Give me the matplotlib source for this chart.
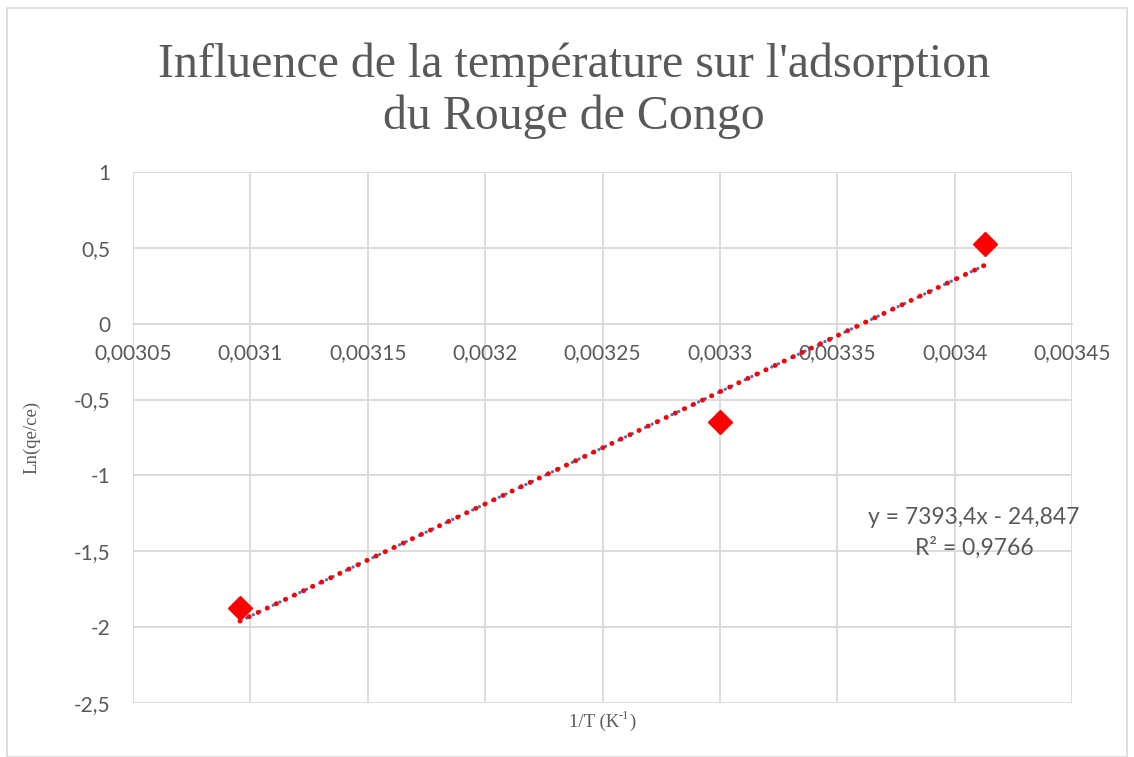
import numpy as np
import matplotlib.pyplot as plt
from matplotlib.ticker import MultipleLocator, FuncFormatter
from matplotlib.patches import Rectangle

# ==========================================================
# DATA
# ==========================================================

inv_T = [0.0030956, 0.0033001, 0.0034129]
ln_qe_ce = [-1.874, -0.648, 0.525]

slope = 7393.4
intercept = -24.847
r2 = 0.9766

GRAY = "#595959"
GRID = "#d9d9d9"


def comma(v, pos):
    return ("%g" % round(v, 8)).replace(".", ",")


# ==========================================================
# FIGURE
# ==========================================================

W, H = 1134, 757
fig = plt.figure(figsize=(W / 100, H / 100), dpi=100)
ax = fig.add_axes([133 / W, 1 - 703 / H, (1072 - 133) / W, (703 - 172) / H])

# outer chart border
fig.patches.append(Rectangle((7 / W, 0), 1120 / W, 1 - 8 / H,
                             transform=fig.transFigure, fill=False,
                             edgecolor="#d9d9d9", linewidth=1.2))

ax.set_xlim(0.00305, 0.00345)
ax.set_ylim(-2.5, 1)
ax.xaxis.set_major_locator(MultipleLocator(0.00005))
ax.yaxis.set_major_locator(MultipleLocator(0.5))
ax.xaxis.set_major_formatter(FuncFormatter(comma))
ax.yaxis.set_major_formatter(FuncFormatter(comma))

ax.grid(True, color=GRID, linewidth=1.3)
ax.set_axisbelow(True)
for s in ["top", "right", "left"]:
    ax.spines[s].set_visible(False)
ax.spines["bottom"].set_position(("data", 0))
ax.spines["bottom"].set_color(GRID)
ax.spines["bottom"].set_linewidth(1.3)

ax.tick_params(length=0, labelsize=15, labelcolor=GRAY)
ax.tick_params(axis="y", pad=16)
ax.tick_params(axis="x", pad=14)
for lbl in ax.get_xticklabels() + ax.get_yticklabels():
    lbl.set_fontfamily("Lato")

# trend line (linear fit), drawn twice: blue dotted under red dotted
x_fit = np.array([inv_T[0], inv_T[-1]])
y_fit = slope * x_fit + intercept
ax.plot(x_fit, y_fit, color="#4472c4", linewidth=2.4,
        linestyle=(0, (0.01, 2.2)), dash_capstyle="round", zorder=2)
ax.plot(x_fit, y_fit, color="#ff0000", linewidth=3.6,
        linestyle=(0, (0.01, 2.0)), dash_capstyle="round", zorder=3)

ax.plot(inv_T, ln_qe_ce, linestyle="none", marker="D", markersize=12,
        color="#ff0000", zorder=4)

ax.text(0.0034083, -1.28, "y = 7393,4x - 24,847", ha="center", va="center",
        fontsize=16.5, color=GRAY, family="Lato")
ax.text(0.0034083, -1.475, "R² = 0,9766", ha="center", va="center",
        fontsize=16.5, color=GRAY, family="Lato")

fig.text(574 / W, 1 - 91 / H, "Influence de la température sur l'adsorption\ndu Rouge de Congo",
         ha="center", va="center", fontsize=34.5, color=GRAY,
         family="Liberation Serif", linespacing=1.22)

# x label with a hyphen superscript, built from three pieces
fig.canvas.draw()
r = fig.canvas.get_renderer()
xl_main = fig.text(0, 1 - 722 / H, "1/T (K", ha="left", va="center",
                   fontsize=13.5, color=GRAY, family="Liberation Serif")
xl_sup = fig.text(0, 1 - 716 / H, "-1", ha="left", va="center",
                  fontsize=9, color=GRAY, family="Liberation Serif")
xl_end = fig.text(0, 1 - 722 / H, ")", ha="left", va="center",
                  fontsize=13.5, color=GRAY, family="Liberation Serif")
w1 = xl_main.get_window_extent(r).width
w2 = xl_sup.get_window_extent(r).width
w3 = xl_end.get_window_extent(r).width
x0 = 602 - (w1 + w2 + w3) / 2
xl_main.set_x(x0 / W)
xl_sup.set_x((x0 + w1) / W)
xl_end.set_x((x0 + w1 + w2) / W)

fig.text(32 / W, 1 - 437 / H, "Ln(qe/ce)", ha="center", va="center",
         rotation=90, fontsize=13.5, color=GRAY, family="Liberation Serif")

fig.savefig("out.png", dpi=100)
